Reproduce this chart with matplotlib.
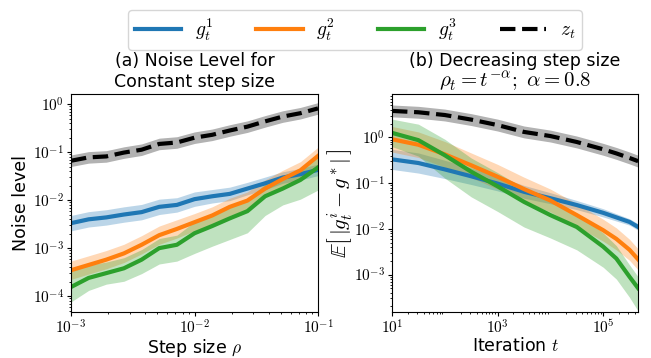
import numpy as np
import matplotlib
matplotlib.use("Agg")
import matplotlib.pyplot as plt
from matplotlib.ticker import FuncFormatter

plt.rcParams["font.family"] = ["DejaVu Sans"]
plt.rcParams["mathtext.fontset"] = "cm"

# (a) constant step size, values read as log10 of noise level
rho = [0.001, 0.00139, 0.00193, 0.00268, 0.00373, 0.00518, 0.0072, 0.01,
       0.0139, 0.0193, 0.0268, 0.0373, 0.0518, 0.072, 0.1]
z_a = [-1.18, -1.11, -1.09, -1.01, -0.95, -0.83, -0.80, -0.70,
       -0.64, -0.55, -0.47, -0.36, -0.26, -0.19, -0.09]
g1_a = [-2.48, -2.40, -2.36, -2.30, -2.25, -2.14, -2.10, -1.98,
        -1.92, -1.87, -1.76, -1.65, -1.53, -1.46, -1.37]
g2_a = [-3.46, -3.35, -3.24, -3.11, -2.93, -2.73, -2.60, -2.46,
        -2.32, -2.14, -2.01, -1.76, -1.56, -1.38, -1.08]
g3_a = [-3.81, -3.62, -3.52, -3.42, -3.24, -3.00, -2.93, -2.69,
        -2.54, -2.38, -2.23, -1.92, -1.76, -1.58, -1.32]
# band half widths (decades)
z_a_band = [0.12] * 15
g1_a_band = [0.16, 0.16, 0.16, 0.16, 0.16, 0.16, 0.15, 0.15,
             0.14, 0.14, 0.13, 0.13, 0.12, 0.12, 0.12]
g2_a_band = [0.19, 0.19, 0.19, 0.19, 0.19, 0.19, 0.19, 0.18,
             0.18, 0.18, 0.18, 0.18, 0.18, 0.18, 0.18]
g3_a_up = [0.32, 0.27, 0.23, 0.22, 0.21, 0.20, 0.20, 0.24,
           0.24, 0.25, 0.25, 0.25, 0.24, 0.23, 0.23]
g3_a_dn = [0.31, 0.26, 0.23, 0.27, 0.29, 0.33, 0.34, 0.42,
           0.42, 0.44, 0.45, 0.40, 0.34, 0.40, 0.47]

# (b) decreasing step size
iters = [10, 31.6, 100, 316, 1000, 3162, 1e4, 31623, 1e5, 177828, 316228, 460000]
z_b = [0.58, 0.55, 0.49, 0.39, 0.27, 0.12, 0.03, -0.10, -0.26, -0.35, -0.45, -0.52]
g1_b = [-0.48, -0.56, -0.70, -0.85, -1.01, -1.19, -1.33, -1.48, -1.65, -1.75, -1.85, -1.96]
g2_b = [-0.04, -0.16, -0.37, -0.61, -0.86, -1.13, -1.38, -1.70, -2.03, -2.22, -2.46, -2.67]
g3_b = [0.10, -0.06, -0.39, -0.75, -1.07, -1.41, -1.70, -1.96, -2.39, -2.65, -3.05, -3.30]
z_b_band = [0.13] * 12
g1_b_band = [0.22, 0.22, 0.20, 0.18, 0.16, 0.14, 0.12, 0.10, 0.09, 0.08, 0.07, 0.07]
g2_b_band = [0.28, 0.28, 0.28, 0.27, 0.27, 0.26, 0.25, 0.25, 0.24, 0.24, 0.23, 0.23]
g3_b_up = [0.30, 0.35, 0.35, 0.30, 0.30, 0.30, 0.30, 0.30, 0.30, 0.28, 0.26, 0.25]
g3_b_dn = [0.30, 0.35, 0.50, 0.55, 0.55, 0.55, 0.50, 0.50, 0.45, 0.45, 0.45, 0.50]

COLORS = ["tab:blue", "tab:orange", "tab:green"]
TITLE_SIZE = 12.5


def pow10(val, pos):
    e = int(round(np.log10(val)))
    return r"$10^{%d}$" % e


def draw(ax, x, series):
    x = np.array(x)
    for (vals, up, dn), c in zip(series[:3], COLORS):
        v = np.array(vals)
        ax.fill_between(x, 10 ** (v + np.array(up)), 10 ** (v - np.array(dn)),
                        color=c, alpha=0.3, linewidth=0)
        ax.plot(x, 10 ** v, color=c, lw=3)
    vals, up, dn = series[3]
    v = np.array(vals)
    ax.fill_between(x, 10 ** (v + np.array(up)), 10 ** (v - np.array(dn)),
                    color="black", alpha=0.3, linewidth=0)
    ax.plot(x, 10 ** v, color="black", lw=3, ls="--")
    ax.set_xscale("log")
    ax.set_yscale("log")
    ax.xaxis.set_major_formatter(FuncFormatter(pow10))
    ax.yaxis.set_major_formatter(FuncFormatter(pow10))
    ax.tick_params(which="major", labelsize=11, length=3, pad=2)
    ax.tick_params(which="minor", length=1.5)


def title_lines(ax, first, second, second_size):
    # baselines placed in axes fraction above the top spine
    ax.text(0.5, 1.13, first, transform=ax.transAxes, ha="center",
            va="baseline", fontsize=TITLE_SIZE)
    ax.text(0.5, 1.03, second, transform=ax.transAxes, ha="center",
            va="baseline", fontsize=second_size)


fig = plt.figure(figsize=(6.51, 3.58), dpi=100)
ax1 = fig.add_axes([71 / 651, 46 / 358, 247 / 651, 218 / 358])
ax2 = fig.add_axes([392 / 651, 46 / 358, 246 / 651, 218 / 358])

draw(ax1, rho, [(g1_a, g1_a_band, g1_a_band), (g2_a, g2_a_band, g2_a_band),
                (g3_a, g3_a_up, g3_a_dn), (z_a, z_a_band, z_a_band)])
ax1.set_xlim(1e-3, 1e-1)
ax1.set_ylim(10 ** -4.33, 10 ** 0.21)
ax1.set_xlabel(r"Step size $\rho$", fontsize=12.5, labelpad=0)
ax1.set_ylabel("Noise level", fontsize=12.5, labelpad=2)
title_lines(ax1, "(a) Noise Level for", "Constant step size", TITLE_SIZE)

draw(ax2, iters, [(g1_b, g1_b_band, g1_b_band), (g2_b, g2_b_band, g2_b_band),
                  (g3_b, g3_b_up, g3_b_dn), (z_b, z_b_band, z_b_band)])
ax2.set_xlim(10, 10 ** 5.66)
ax2.set_ylim(10 ** -3.82, 10 ** 0.95)
ax2.set_xticks([1e1, 1e3, 1e5])
ax2.set_xlabel(r"Iteration $t$", fontsize=12.5, labelpad=0)
ax2.set_ylabel(r"$\mathbb{E}\left[\,|g_t^i - g^*|\,\right]$", fontsize=15, labelpad=0)
title_lines(ax2, "(b) Decreasing step size",
            r"$\rho_t = t^{-\alpha};\ \alpha = 0.8$", 15)

labels = [r"$g_t^1$", r"$g_t^2$", r"$g_t^3$", r"$z_t$"]
handles = [plt.Line2D([], [], color=c, lw=3) for c in COLORS]
handles.append(plt.Line2D([], [], color="black", lw=3, ls="--"))
fig.legend(handles, labels, loc="upper center", bbox_to_anchor=(355 / 651, 1.0),
           ncol=4, fontsize=14, handlelength=2.4, handletextpad=0.7,
           columnspacing=2.2, borderpad=0.35)

fig.savefig("out.png", dpi=100)
